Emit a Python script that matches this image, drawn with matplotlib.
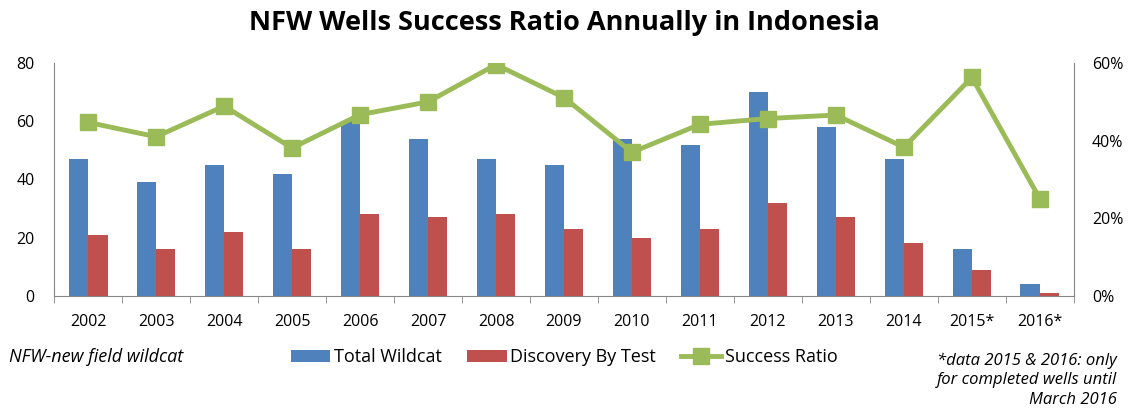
import numpy as np
import matplotlib
matplotlib.use('Agg')
import matplotlib.pyplot as plt
from matplotlib.ticker import FuncFormatter

plt.rcParams['font.family'] = ['Open Sans', 'DejaVu Sans']

# data
years = ['2002', '2003', '2004', '2005', '2006', '2007', '2008', '2009',
         '2010', '2011', '2012', '2013', '2014', '2015*', '2016*']
total_wildcat = [47, 39, 45, 42, 60, 54, 47, 45, 54, 52, 70, 58, 47, 16, 4]
discovery = [21, 16, 22, 16, 28, 27, 28, 23, 20, 23, 32, 27, 18, 9, 1]
success_ratio = [44.7, 41.0, 48.9, 38.1, 46.7, 50.0, 59.6, 51.1,
                 37.0, 44.2, 45.7, 46.6, 38.3, 56.3, 25.0]

blue = '#4F81BD'
red = '#C0504D'
green = '#9BBB59'
axis_gray = '#868686'

fig = plt.figure(figsize=(11.28, 4.12), dpi=100)
ax = fig.add_axes([0.048, 0.282, 0.904, 0.565])
ax2 = ax.twinx()

x = np.arange(len(years))
w = 0.285
b1 = ax.bar(x - w / 2, total_wildcat, w, color=blue, label='Total Wildcat', zorder=2)
b2 = ax.bar(x + w / 2, discovery, w, color=red, label='Discovery By Test', zorder=2)
ln, = ax2.plot(x, success_ratio, color=green, lw=3.5, marker='s', ms=11,
               label='Success Ratio', zorder=3)

ax.set_xlim(-0.5, len(years) - 0.5)
ax.set_ylim(0, 80)
ax.set_yticks([0, 20, 40, 60, 80])
ax2.set_ylim(0, 60)
ax2.set_yticks([0, 20, 40, 60])
ax2.yaxis.set_major_formatter(FuncFormatter(lambda v, p: f'{v:.0f}%'))

ax.set_xticks(x)
ax.set_xticklabels(years)
ax.set_xticks(np.arange(-0.5, len(years), 1), minor=True)
ax.tick_params(axis='x', which='major', length=0, pad=13, labelsize=11.5)
ax.tick_params(axis='x', which='minor', length=5, color=axis_gray, direction='out')
ax.tick_params(axis='y', length=0, labelsize=11.5, pad=14)
ax2.tick_params(axis='y', length=0, labelsize=11.5, pad=13)

for a in (ax, ax2):
    a.spines['top'].set_visible(False)
    for s in ('left', 'right', 'bottom'):
        a.spines[s].set_color(axis_gray)
ax.spines['right'].set_visible(False)
ax2.spines['left'].set_visible(False)
ax2.spines['bottom'].set_visible(False)

fig.text(0.5, 0.945, 'NFW Wells Success Ratio Annually in Indonesia',
         ha='center', va='center', fontsize=19.5, fontweight='bold')

fig.legend(handles=[b1, b2, ln], loc='center', bbox_to_anchor=(0.5, 0.133),
           ncol=3, frameon=False, fontsize=13, handlelength=2.2,
           handletextpad=0.2, columnspacing=1.4)

fig.text(0.008, 0.133, 'NFW-new field wildcat', ha='left', va='center',
         fontsize=13, style='italic')
fig.text(0.99, 0.077,
         '*data 2015 & 2016: only\nfor completed wells until\nMarch 2016',
         ha='right', va='center', fontsize=12, style='italic', linespacing=1.3)

fig.savefig('out.png', dpi=100)
